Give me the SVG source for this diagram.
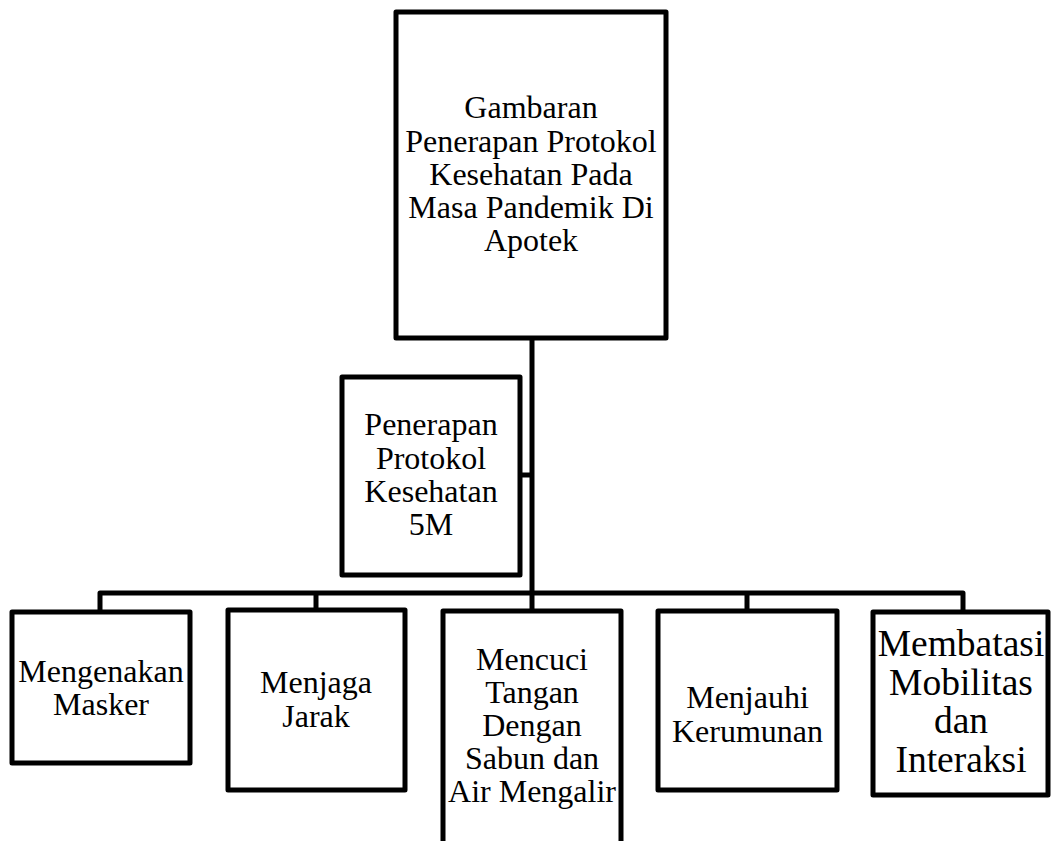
<svg xmlns="http://www.w3.org/2000/svg" width="1052" height="841" viewBox="0 0 1052 841">
<style>
.box{fill:#fff;stroke:#000;stroke-width:5;stroke-linejoin:round}
text{font-family:'Liberation Serif','Times New Roman',Tinos,'Noto Serif','DejaVu Serif',serif;font-size:32px;fill:#000;text-anchor:middle}
.big{font-size:37.5px}
.c{fill:none;stroke:#000;stroke-width:5;stroke-linejoin:round}
</style>
<rect width="1052" height="841" fill="#fff"/>
<g id="connectors">
<path class="c" d="M532 338 V611"/>
<path class="c" d="M520 475 H532"/>
<path class="c" d="M100 612 V593 H963 V612"/>
<path class="c" d="M316 593 V610"/>
<path class="c" d="M747 593 V611"/>
</g>
<g id="node-top">
<rect class="box" x="396" y="12" width="270" height="326"/>
<text x="531" y="118">Gambaran</text>
<text x="531" y="152">Penerapan Protokol</text>
<text x="531" y="185">Kesehatan Pada</text>
<text x="531" y="218">Masa Pandemik Di</text>
<text x="531" y="251">Apotek</text>
</g>
<g id="node-5m">
<rect class="box" x="342" y="377" width="178" height="198"/>
<text x="431" y="435">Penerapan</text>
<text x="431" y="469">Protokol</text>
<text x="431" y="502">Kesehatan</text>
<text x="431" y="535">5M</text>
</g>
<g id="node-masker">
<rect class="box" x="12" y="612" width="178" height="151"/>
<text x="101" y="682">Mengenakan</text>
<text x="101" y="715">Masker</text>
</g>
<g id="node-jarak">
<rect class="box" x="228" y="610" width="177" height="180"/>
<text x="316" y="693">Menjaga</text>
<text x="316" y="727">Jarak</text>
</g>
<g id="node-mencuci">
<rect class="box" x="443" y="611" width="178" height="250"/>
<text x="532" y="670">Mencuci</text>
<text x="532" y="703">Tangan</text>
<text x="532" y="736">Dengan</text>
<text x="532" y="769">Sabun dan</text>
<text x="532" y="802">Air Mengalir</text>
</g>
<g id="node-kerumunan">
<rect class="box" x="658" y="611" width="179" height="179"/>
<text x="747.5" y="708">Menjauhi</text>
<text x="747.5" y="742">Kerumunan</text>
</g>
<g id="node-mobilitas">
<rect class="box" x="873" y="612" width="175" height="183"/>
<text class="big" x="961" y="656">Membatasi</text>
<text class="big" x="961" y="695">Mobilitas</text>
<text class="big" x="961" y="733">dan</text>
<text class="big" x="961" y="772">Interaksi</text>
</g>
</svg>
